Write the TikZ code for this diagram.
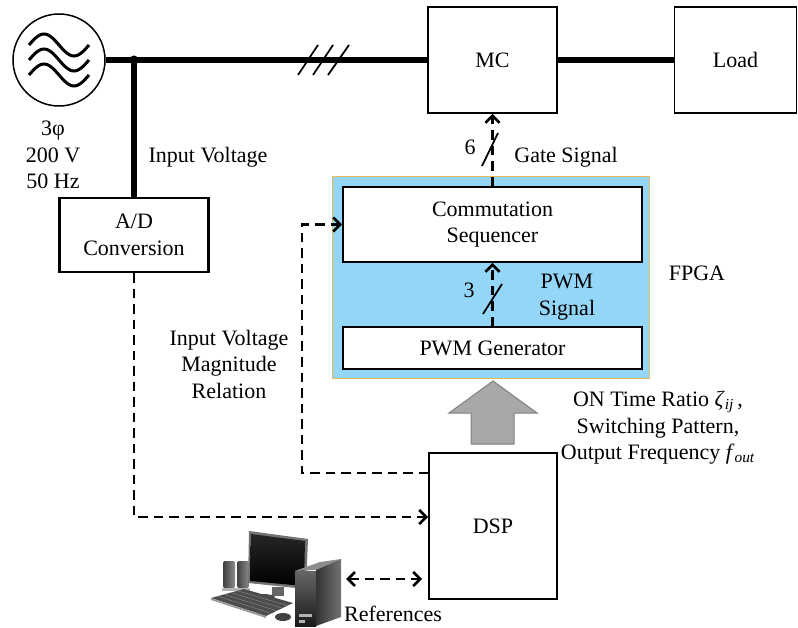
\documentclass[tikz,border=0pt]{standalone}
\usepackage{fontspec}
\setmainfont{Liberation Serif}
\usetikzlibrary{arrows.meta,calc}

\definecolor{fpgafill}{HTML}{93D6F8}
\definecolor{fpgaedge}{HTML}{E2BC5C}
\definecolor{bigarrow}{HTML}{A8A8A8}
\definecolor{bigarrowedge}{HTML}{808080}

\begin{document}
\begin{tikzpicture}[x=1pt,y=-1pt,
  box/.style={draw, line width=1.8pt, fill=white, align=center, inner sep=0pt},
  bus/.style={line width=5.5pt},
  barb/.tip={Straight Barb[length=7pt,width=14pt]},
  flow/.style={line width=2.7pt, dash pattern=on 9.5pt off 6pt, -barb},
  tick/.style={line width=1.8pt},
  lbl/.style={align=center, inner sep=0pt},
  font=\fontsize{22}{26.5}\selectfont]

\useasboundingbox (0,0) rectangle (798,628);

% FPGA area
\filldraw[fill=fpgafill, draw=fpgaedge, line width=1pt] (332,177) rectangle (649,378);
\node[lbl] (fpgalbl) at (697,273) {FPGA};

% three-phase source
\node[draw, circle, line width=1.5pt, minimum size=92pt, inner sep=0pt] (src) at (59,60) {};
\foreach \c in {45,60,75}
  \draw[line width=3pt] plot[domain=0:60, smooth, samples=41] ({29+\x},{\c-11*sin(6*\x)});
\node[lbl] (srclbl) at (53,155) {3φ\\200 V\\50 Hz};

% blocks
\node[box, minimum width=129pt, minimum height=106pt] (MC) at (492.5,60) {MC};
\node[box, minimum width=122pt, minimum height=106pt] (load) at (735.5,60) {Load};
\node[box, minimum width=299pt, minimum height=75pt] (CS) at (492.5,224.5) {Commutation\\Sequencer};
\node[box, minimum width=299pt, minimum height=42pt] (PG) at (492.5,348) {PWM Generator};
\node[box, line width=2.2pt, minimum width=149pt, minimum height=74pt] (AD) at (134,235) {A/D\\Conversion};
\node[box, minimum width=128pt, minimum height=146pt] (DSP) at (493,526) {DSP};

% power lines
\coordinate (j) at (134,60);
\draw[bus] (src.east) -- (MC.west);
\draw[bus] (MC.east) -- (load.west);
\draw[bus] (j) -- (AD.north);
\fill (j) circle (4.5pt);
\draw[tick] (298,75) -- (318,45);
\draw[tick] (313,75) -- (333,45);
\draw[tick] (328,75) -- (349,45);

% signal paths
\draw[flow] (CS.north) -- (MC.south);
\draw[tick] (482,166) -- (498,133);
\node[lbl] (six) at (470,147) {6};
\node[lbl] (gatelbl) at (566,157) {Gate Signal};

\draw[flow] (PG.north) -- (CS.south);
\draw[tick] (483,314) -- (502,284);
\node[lbl] (three) at (469,290) {3};
\node[lbl] (pwmlbl) at (567,297) {PWM\\Signal};

\draw[flow] (AD.south) |- ([yshift=9pt]DSP.west);
\draw[flow] ([yshift=53pt]DSP.west) -| ($(CS.west)+(-40,0)$) -- (CS.west);

\node[lbl] (invlbl) at (208,157) {Input Voltage};
\node[lbl] (maglbl) at (229,364) {Input Voltage\\Magnitude\\Relation};

% DSP to FPGA transfer
\filldraw[fill=bigarrow, draw=bigarrowedge, line width=1pt]
  (471,444) -- (471,413) -- (449,413) -- (493,381) -- (537,413) -- (514,413) -- (514,444) -- cycle;
\node[lbl] (reflbl) at (658,428) {ON Time Ratio \textit{ζ}\textsubscript{\textit{ij}}\,,\\Switching Pattern,\\Output Frequency \textit{f}\textsubscript{\textit{out}}};

% personal computer
\begin{scope}
  % speakers
  \shade[left color=black!75, right color=black!45, rounded corners=1.5pt] (223,561) rectangle (235,588);
  \shade[left color=black!75, right color=black!45, rounded corners=1.5pt] (237,561) rectangle (249,588);
  \fill[black!30] (222,588) rectangle (236,591);
  \fill[black!30] (236,588) rectangle (250,591);
  % monitor
  \fill[black!55] (249,531) -- (308,539) -- (306,589) -- (248,583) -- cycle;
  \shade[top color=black!85, bottom color=black] (251,534) -- (305,541) -- (304,586) -- (250,581) -- cycle;
  \fill[black!60] (272,587) rectangle (284,596);
  \fill[black!70] (262,597) ellipse (13pt and 3pt);
  % keyboard
  \fill[black!70] (211,598) -- (244,589) -- (293,603) -- (266,616) -- cycle;
  \fill[black!40] (211,598) -- (266,616) -- (266,618) -- (211,600) -- cycle;
  \foreach \t in {0.2,0.4,0.6,0.8}
    \draw[black!45, line width=0.4pt] ($(211,598)!\t!(244,589)$) -- ($(266,616)!\t!(293,603)$);
  % mouse
  \fill[black!75] (283,617) ellipse (8pt and 4pt);
  % tower
  \fill[black!45] (295,571) -- (320,562) -- (341,559) -- (316,570) -- cycle;
  \shade[top color=black!60, bottom color=black!90] (295,571) rectangle (316,626);
  \shade[left color=black!80, right color=black!55] (316,570) -- (341,559) -- (341,617) -- (316,626) -- cycle;
  \fill[black!30] (299,614) rectangle (312,617);
  \fill[black!30] (299,620) rectangle (305,623);
  \coordinate (pc) at (341,579);
\end{scope}
\draw[flow, barb-barb, shorten <=5pt, shorten >=6pt]
  (pc) -- ([yshift=-53pt]DSP.west);
\node[lbl] (pclbl) at (393,614) {References};

\end{tikzpicture}
\end{document}
